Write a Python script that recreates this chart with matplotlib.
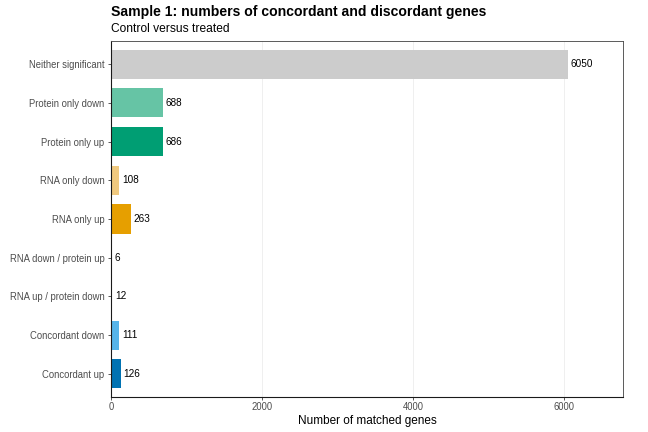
import numpy as np
import matplotlib.pyplot as plt

plt.rcParams['font.family'] = ['Liberation Sans', 'DejaVu Sans']

# data, top to bottom as drawn
categories = ["Neither significant", "Protein only down", "Protein only up",
              "RNA only down", "RNA only up", "RNA down / protein up",
              "RNA up / protein down", "Concordant down", "Concordant up"]
counts = [6050, 688, 686, 108, 263, 6, 12, 111, 126]
colours = ["#CCCCCC", "#66C4A5", "#009E73", "#F0C97F", "#E69F00",
           "#CC79A7", "#D55E00", "#56B4E9", "#0072B2"]
xticks = [0, 2000, 4000, 6000]

fig = plt.figure(figsize=(9, 6), dpi=72)
ax = fig.add_axes([111/648, 1 - 397/432, (623-111)/648, (397-41)/432])

ypos = np.arange(len(categories))[::-1]
ax.barh(ypos, counts, height=0.75, color=colours, zorder=2)
for y, v in zip(ypos, counts):
    ax.text(v + 40, y, str(v), va="center", ha="left", fontsize=10, color="black")

ax.set_xlim(0, 6780)
ax.set_ylim(-0.6, len(categories) - 0.4)
ax.set_yticks(ypos)
ax.set_yticklabels(categories)
ax.set_xticks(xticks)
ax.set_xticklabels([str(t) for t in xticks])
ax.tick_params(axis="both", labelsize=9.5, labelcolor="#4D4D4D", color="#333333",
               length=3, width=0.8)
ax.tick_params(axis="x", pad=2)
ax.grid(axis="x", color="#EBEBEB", linewidth=0.8, zorder=0)
ax.set_axisbelow(True)

for side in ["top", "right"]:
    ax.spines[side].set_color("#4D4D4D")
    ax.spines[side].set_linewidth(0.9)
for side in ["left", "bottom"]:
    ax.spines[side].set_color("#1A1A1A")
    ax.spines[side].set_linewidth(1.1)

ax.set_xlabel("Number of matched genes", fontsize=11.8, color="black", labelpad=3)

fig.text(111/648, 1 - 12/432, "Sample 1: numbers of concordant and discordant genes",
         fontsize=14, fontweight="bold", ha="left", va="center")
fig.text(111/648, 1 - 29/432, "Control versus treated", fontsize=12, ha="left", va="center")

fig.savefig("out.png", dpi=72)
